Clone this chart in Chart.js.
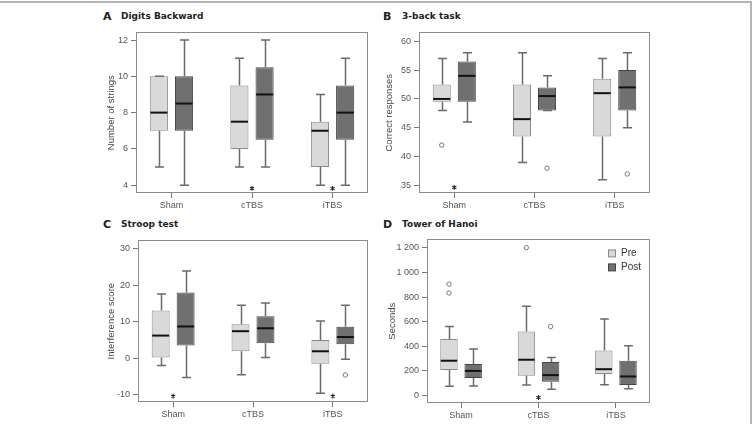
<!DOCTYPE html>
<html>
<head>
<meta charset="utf-8">
<script src="https://cdn.jsdelivr.net/npm/chart.js@4.4.1/dist/chart.umd.min.js"></script>
<style>
  body { margin: 0; background: #fff; width: 755px; height: 424px; position: relative; overflow: hidden; }
  canvas { position: absolute; }
  .letter { position: absolute; font: bold 11px "DejaVu Sans", sans-serif; color: #222; line-height: 1; }
  .title { position: absolute; font: bold 9px "DejaVu Sans", sans-serif; color: #222; line-height: 1; white-space: nowrap; }
  .edge-top { position: absolute; left: 0; top: 1px; width: 752px; height: 2px; background: #b5b5b5; }
  .edge-right { position: absolute; left: 750px; top: 1px; width: 2px; height: 423px; background: #b5b5b5; }
</style>
</head>
<body>
<div class="edge-top"></div>
<div class="edge-right"></div>

<div class="letter" style="left:103px;top:11px">A</div>
<div class="title" style="left:121px;top:12px">Digits Backward</div>
<div class="letter" style="left:383px;top:11px">B</div>
<div class="title" style="left:402px;top:12px">3-back task</div>
<div class="letter" style="left:103px;top:219px">C</div>
<div class="title" style="left:121px;top:220px">Stroop test</div>
<div class="letter" style="left:383px;top:219px">D</div>
<div class="title" style="left:402px;top:220px">Tower of Hanoi</div>

<canvas id="chartA"></canvas>
<canvas id="chartB"></canvas>
<canvas id="chartC"></canvas>
<canvas id="chartD"></canvas>

<script>
const groups = ['Sham', 'cTBS', 'iTBS'];
const groupTicks = [0, 1, 2];

// each box: [min, q1, median, q3, max]
const digitsPre  = [[5, 7, 8, 10, 10], [5, 6, 7.5, 9.5, 11], [4, 5, 7, 7.5, 9]];
const digitsPost = [[4, 7, 8.5, 10, 12], [5, 6.5, 9, 10.5, 12], [4, 6.5, 8, 9.5, 11]];
const digitsPreOut = [];
const digitsPostOut = [];
const digitsStars = [[1, 3.82], [2, 3.82]];
const digitsTicks = [4, 6, 8, 10, 12];

const nbackPre  = [[48, 49.5, 50, 52.5, 57], [39, 43.5, 46.5, 52.5, 58], [36, 43.5, 51, 53.5, 57]];
const nbackPost = [[46, 49.5, 54, 56.5, 58], [48, 48, 50.5, 52, 54], [45, 48, 52, 55, 58]];
const nbackPreOut = [[0, 42]];
const nbackPostOut = [[1, 38], [2, 37]];
const nbackStars = [[0, 34.66]];
const nbackTicks = [35, 40, 45, 50, 55, 60];

const stroopPre  = [[-2, 0.2, 6.2, 13.1, 17.6], [-4.5, 1.9, 7.4, 9.3, 14.5], [-9.6, -1.5, 1.9, 5.0, 10.2]];
const stroopPost = [[-5.3, 3.5, 8.7, 18.0, 23.9], [0.2, 4.1, 8.2, 11.5, 15.1], [-0.3, 3.8, 5.8, 8.6, 14.5]];
const stroopPreOut = [];
const stroopPostOut = [[2, -4.6]];
const stroopStars = [[0, -10.4], [2, -10.4]];
const stroopTicks = [-10, 0, 10, 20, 30];

const hanoiPre  = [[75, 208, 283, 460, 561], [85, 160, 291, 521, 727], [88, 174, 214, 366, 623]];
const hanoiPost = [[78, 142, 200, 257, 379], [51, 112, 166, 273, 310], [56, 86, 155, 283, 404]];
const hanoiPreOut = [[0, 906], [0, 834], [1, 1203]];
const hanoiPostOut = [[1, 561]];
const hanoiStars = [[1, -16]];
const hanoiTicks = [0, 200, 400, 600, 800, 1000, 1200];

const seriesNames = ['Pre', 'Post'];

// whiskers, medians, outliers and the * marks
const boxExtras = {
  id: 'boxExtras',
  afterDatasetsDraw(chart) {
    const ctx = chart.ctx;
    const y = chart.scales.y;
    const x = chart.scales.x;
    const a = chart.chartArea;
    ctx.save();
    chart.data.datasets.forEach((ds, d) => {
      const meta = chart.getDatasetMeta(d);
      meta.data.forEach((bar, i) => {
        const s = ds.stats[i];
        const cx = Math.round(bar.x) + 0.5;
        const half = bar.width / 2;
        ctx.strokeStyle = '#6a6a6a';
        ctx.lineWidth = 1.5;
        ctx.beginPath();
        ctx.moveTo(cx, y.getPixelForValue(s[3]));
        ctx.lineTo(cx, y.getPixelForValue(s[4]));
        ctx.moveTo(cx, y.getPixelForValue(s[1]));
        ctx.lineTo(cx, y.getPixelForValue(s[0]));
        ctx.moveTo(cx - half / 2, y.getPixelForValue(s[4]));
        ctx.lineTo(cx + half / 2, y.getPixelForValue(s[4]));
        ctx.moveTo(cx - half / 2, y.getPixelForValue(s[0]));
        ctx.lineTo(cx + half / 2, y.getPixelForValue(s[0]));
        ctx.stroke();
        ctx.strokeStyle = '#111';
        ctx.lineWidth = 2;
        ctx.beginPath();
        ctx.moveTo(bar.x - half + 0.5, y.getPixelForValue(s[2]));
        ctx.lineTo(bar.x + half - 0.5, y.getPixelForValue(s[2]));
        ctx.stroke();
      });
      ds.outliers.forEach(o => {
        const bar = meta.data[o[0]];
        ctx.strokeStyle = '#777';
        ctx.lineWidth = 1;
        ctx.beginPath();
        ctx.arc(bar.x, y.getPixelForValue(o[1]), 2.2, 0, Math.PI * 2);
        ctx.stroke();
      });
    });
    chart.options.stars.forEach(st => {
      const sx = x.getPixelForValue(st[0]);
      const sy = y.getPixelForValue(st[1]);
      ctx.strokeStyle = '#222';
      ctx.lineWidth = 1.1;
      ctx.beginPath();
      for (let k = 0; k < 3; k++) {
        const ang = Math.PI / 2 + k * Math.PI / 3;
        ctx.moveTo(sx - 2.4 * Math.cos(ang), sy - 2.4 * Math.sin(ang));
        ctx.lineTo(sx + 2.4 * Math.cos(ang), sy + 2.4 * Math.sin(ang));
      }
      ctx.stroke();
    });
    // plot frame
    ctx.strokeStyle = '#8c8c8c';
    ctx.lineWidth = 1;
    ctx.strokeRect(Math.round(a.left) + 0.5, Math.round(a.top) + 0.5,
      Math.round(a.right - a.left) - 1, Math.round(a.bottom - a.top) - 1);
    // legend inside panel D
    if (chart.options.insideLegend) {
      const cols = [chart.data.datasets[0], chart.data.datasets[1]];
      ctx.font = '10px "Liberation Sans", Arial, sans-serif';
      ctx.textBaseline = 'middle';
      cols.forEach((ds, k) => {
        const lx = a.right - 41.5, ly = a.top + 10.5 + k * 14;
        ctx.fillStyle = ds.backgroundColor;
        ctx.fillRect(lx, ly, 7, 7);
        ctx.strokeStyle = ds.borderColor;
        ctx.strokeRect(lx, ly, 7, 7);
        ctx.fillStyle = '#333';
        ctx.fillText(ds.label, a.right - 29, ly + 3.5);
      });
    }
    ctx.restore();
  }
};

function fmtThousands(v) {
  return String(v).replace(/\B(?=(\d{3})+(?!\d))/g, ' ');
}

function boxPanel(id, p) {
  const canvas = document.getElementById(id);
  const top = p.area[2] - 6;
  const w = p.area[1] - p.left + 4;
  const h = p.area[3] - top + 24;
  canvas.style.left = p.left + 'px';
  canvas.style.top = top + 'px';
  canvas.width = w;
  canvas.height = h;
  const padL = Math.round(p.titleX - p.left - 6);
  const yW = p.area[0] - p.left - padL;
  const tickFont = { family: '"Liberation Sans", Arial, sans-serif', size: 9 };

  return new Chart(canvas.getContext('2d'), {
    type: 'bar',
    data: {
      datasets: [{
        label: seriesNames[0],
        data: p.pre.map((s, i) => ({ x: groupTicks[i], y: [s[1], s[3]] })),
        stats: p.pre,
        outliers: p.preOut,
        backgroundColor: '#d9d9d9',
        borderColor: '#8a8a8a',
        borderWidth: 1,
        borderSkipped: false
      }, {
        label: seriesNames[1],
        data: p.post.map((s, i) => ({ x: groupTicks[i], y: [s[1], s[3]] })),
        stats: p.post,
        outliers: p.postOut,
        backgroundColor: '#707070',
        borderColor: '#444',
        borderWidth: 1,
        borderSkipped: false
      }]
    },
    options: {
      responsive: false,
      animation: false,
      stars: p.stars,
      insideLegend: !!p.legend,
      categoryPercentage: 0.625,
      barPercentage: 0.72,
      layout: { padding: { left: padL, right: 4, top: 6, bottom: 0 } },
      plugins: { legend: { display: false }, tooltip: { enabled: false } },
      scales: {
        x: {
          type: 'linear',
          offset: false,
          min: -0.44,
          max: 2.44,
          afterBuildTicks: s => { s.ticks = groupTicks.map(v => ({ value: v })); },
          afterFit: s => { s.height = 24; },
          border: { display: false },
          grid: { display: true, offset: false, drawOnChartArea: false, drawTicks: true, tickLength: 5, color: '#777' },
          ticks: { color: '#555', font: tickFont, padding: 2, autoSkip: false, maxRotation: 0,
                   callback: v => groups[v] }
        },
        y: {
          min: p.yMin,
          max: p.yMax,
          afterBuildTicks: s => { s.ticks = p.ticks.map(v => ({ value: v })); },
          afterFit: s => { s.width = yW; },
          border: { display: false },
          grid: { display: true, drawOnChartArea: false, drawTicks: true, tickLength: 5, color: '#777' },
          ticks: { color: '#555', font: tickFont, padding: 3, callback: v => fmtThousands(v) },
          title: { display: true, text: p.yTitle, color: '#444', padding: 0,
                   font: { family: '"Liberation Sans", Arial, sans-serif', size: 9.5 } }
        }
      }
    },
    plugins: [boxExtras]
  });
}

boxPanel('chartA', {
  left: 90, area: [136, 368, 30, 193], titleX: 111.7,
  yMin: 3.57, yMax: 12.42, ticks: digitsTicks, yTitle: 'Number of strings',
  pre: digitsPre, post: digitsPost, preOut: digitsPreOut, postOut: digitsPostOut, stars: digitsStars
});
boxPanel('chartB', {
  left: 380, area: [419, 650, 30, 193], titleX: 390,
  yMin: 33.7, yMax: 61.53, ticks: nbackTicks, yTitle: 'Correct responses',
  pre: nbackPre, post: nbackPost, preOut: nbackPreOut, postOut: nbackPostOut, stars: nbackStars
});
boxPanel('chartC', {
  left: 90, area: [138, 368, 238, 402], titleX: 111.7,
  yMin: -12.0, yMax: 32.28, ticks: stroopTicks, yTitle: 'Interference score',
  pre: stroopPre, post: stroopPost, preOut: stroopPreOut, postOut: stroopPostOut, stars: stroopStars
});
boxPanel('chartD', {
  left: 380, area: [427, 650, 237, 403], titleX: 392.7,
  yMin: -60.9, yMax: 1269.7, ticks: hanoiTicks, yTitle: 'Seconds',
  pre: hanoiPre, post: hanoiPost, preOut: hanoiPreOut, postOut: hanoiPostOut, stars: hanoiStars,
  legend: true
});
</script>
</body>
</html>
